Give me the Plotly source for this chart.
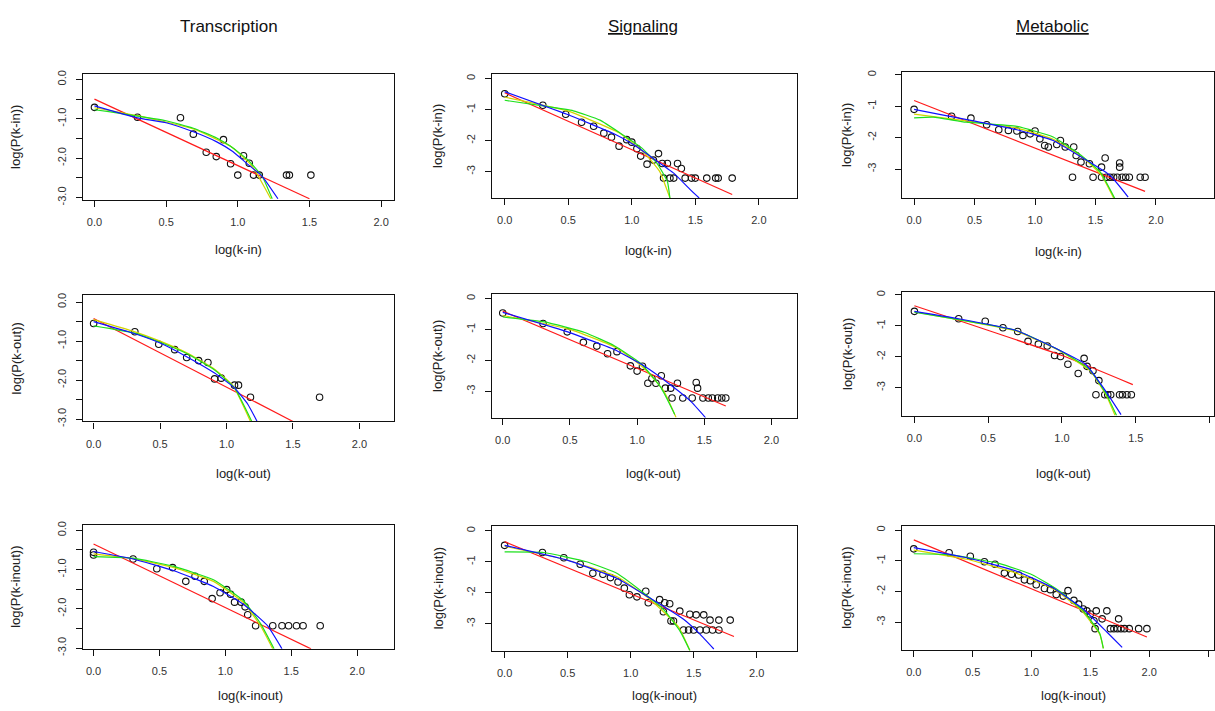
import plotly.graph_objects as go

W, H = 1215, 711
FONT = "Liberation Sans, Arial, sans-serif"

col_titles = ["Transcription", "<u>Signaling</u>", "<u>Metabolic</u>"]
x_titles = ["log(k-in)", "log(k-out)", "log(k-inout)"]
y_titles = ["log(P(k-in))", "log(P(k-out))", "log(P(k-inout))"]

# ---------------- Transcription, k-in ----------------
t_in_x = [0.0, 0.30, 0.60, 0.69, 0.78, 0.85, 0.90, 0.95, 1.00, 1.04, 1.08, 1.11, 1.15, 1.34, 1.36, 1.51]
t_in_y = [-0.71, -0.96, -0.975, -1.39, -1.85, -1.96, -1.53, -2.14, -2.43, -1.94, -2.13, -2.43, -2.43, -2.43, -2.43, -2.43]
t_in_red_x = [0.0, 1.50]
t_in_red_y = [-0.50, -3.03]
t_in_green_x = [0.0, 0.10, 0.30, 0.50, 0.69, 0.85, 0.95, 1.07, 1.17, 1.24]
t_in_green_y = [-0.77, -0.82, -0.93, -1.05, -1.24, -1.48, -1.70, -2.04, -2.46, -3.03]
t_in_blue_x = [0.0, 0.30, 0.50, 0.69, 0.85, 0.965, 1.06, 1.17, 1.28]
t_in_blue_y = [-0.67, -0.975, -1.10, -1.33, -1.58, -1.83, -2.125, -2.46, -3.03]
t_in_yel_x = [0.0, 0.30, 0.69, 0.95, 1.10, 1.23]
t_in_yel_y = [-0.72, -0.92, -1.26, -1.70, -2.20, -3.03]

# ---------------- Signaling, k-in ----------------
s_in_x = [0.0, 0.30, 0.48, 0.605, 0.70, 0.78, 0.84, 0.90, 0.96, 1.00, 1.04, 1.07, 1.12, 1.17, 1.21, 1.24,
          1.28, 1.36, 1.39, 1.25, 1.30, 1.33, 1.42, 1.47, 1.50, 1.59, 1.66, 1.68, 1.79]
s_in_y = [-0.49, -0.86, -1.15, -1.41, -1.54, -1.76, -1.89, -2.18, -1.97, -2.05, -2.26, -2.50, -2.76, -2.63, -2.42, -2.74,
          -2.74, -2.74, -2.90, -3.21, -3.21, -3.21, -3.21, -3.21, -3.21, -3.21, -3.21, -3.21, -3.21]
s_in_red_x = [0.0, 1.79]
s_in_red_y = [-0.46, -3.74]
s_in_green_x = [0.0, 0.30, 0.54, 0.75, 0.91, 1.07, 1.20, 1.28, 1.30]
s_in_green_y = [-0.70, -0.88, -1.04, -1.34, -1.76, -2.21, -2.74, -3.32, -3.85]
s_in_blue_x = [0.0, 0.49, 0.86, 1.01, 1.17, 1.33, 1.46, 1.53]
s_in_blue_y = [-0.42, -1.15, -1.78, -2.12, -2.58, -3.05, -3.58, -3.85]
s_in_yel_x = [0.0, 0.50, 0.90, 1.10, 1.22, 1.30]
s_in_yel_y = [-0.60, -1.05, -1.75, -2.40, -3.00, -3.85]

# ---------------- Metabolic, k-in ----------------
m_in_x = [0.0, 0.31, 0.47, 0.60, 0.70, 0.78, 0.85, 0.90, 0.96, 1.00, 1.04, 1.08, 1.11, 1.18, 1.21, 1.25, 1.32,
          1.34, 1.38, 1.45, 1.55, 1.58, 1.70, 1.70, 1.31, 1.48, 1.55, 1.59, 1.62, 1.65, 1.68, 1.72, 1.75, 1.78,
          1.87, 1.91]
m_in_y = [-1.10, -1.32, -1.38, -1.59, -1.75, -1.77, -1.79, -1.93, -1.88, -1.79, -2.04, -2.25, -2.30, -2.22, -2.09,
          -2.30, -2.30, -2.57, -2.78, -2.83, -2.94, -2.65, -2.81, -2.94, -3.26, -3.26, -3.26, -3.26, -3.26, -3.26,
          -3.26, -3.26, -3.26, -3.26, -3.26, -3.26]
m_in_red_x = [0.0, 1.91]
m_in_red_y = [-0.82, -3.71]
m_in_green_x = [0.0, 0.16, 0.43, 0.85, 1.15, 1.40, 1.54, 1.66]
m_in_green_y = [-1.37, -1.35, -1.51, -1.64, -1.98, -2.62, -3.10, -3.94]
m_in_blue_x = [0.0, 0.21, 0.49, 0.85, 1.15, 1.43, 1.62, 1.77]
m_in_blue_y = [-1.10, -1.26, -1.47, -1.75, -2.09, -2.73, -3.20, -3.89]
m_in_yel_x = [0.0, 0.40, 0.85, 1.15, 1.40, 1.55, 1.65]
m_in_yel_y = [-1.25, -1.45, -1.70, -2.05, -2.65, -3.20, -3.92]

# ---------------- Transcription, k-out ----------------
t_out_x = [0.0, 0.31, 0.49, 0.61, 0.70, 0.79, 0.86, 0.91, 0.96, 1.06, 1.09, 1.18, 1.70]
t_out_y = [-0.55, -0.76, -1.08, -1.22, -1.42, -1.50, -1.55, -1.97, -1.95, -2.13, -2.13, -2.44, -2.44]
t_out_red_x = [0.0, 1.50]
t_out_red_y = [-0.42, -3.06]
t_out_green_x = [0.0, 0.30, 0.50, 0.70, 0.91, 1.06, 1.19]
t_out_green_y = [-0.61, -0.79, -1.03, -1.32, -1.74, -2.20, -3.06]
t_out_blue_x = [0.0, 0.30, 0.50, 0.70, 0.91, 1.06, 1.16, 1.23]
t_out_blue_y = [-0.50, -0.80, -1.05, -1.40, -1.82, -2.20, -2.62, -3.06]
t_out_yel_x = [0.0, 0.30, 0.50, 0.70, 0.91, 1.05, 1.18]
t_out_yel_y = [-0.45, -0.75, -1.00, -1.30, -1.72, -2.15, -3.06]

# ---------------- Signaling, k-out ----------------
s_out_x = [0.0, 0.30, 0.48, 0.60, 0.70, 0.78, 0.85, 0.95, 1.00, 1.04, 1.08, 1.11, 1.14, 1.18, 1.21, 1.25, 1.30,
           1.44, 1.45, 1.26, 1.34, 1.41, 1.49, 1.53, 1.56, 1.60, 1.63, 1.66]
s_out_y = [-0.47, -0.81, -1.08, -1.42, -1.54, -1.79, -1.72, -2.18, -2.35, -2.19, -2.74, -2.59, -2.74, -2.50, -2.90,
           -2.90, -2.74, -2.72, -2.90, -3.22, -3.22, -3.22, -3.22, -3.22, -3.22, -3.22, -3.22, -3.22]
s_out_red_x = [0.0, 1.66]
s_out_red_y = [-0.41, -3.48]
s_out_green_x = [0.0, 0.31, 0.61, 0.83, 1.03, 1.18, 1.28]
s_out_green_y = [-0.60, -0.76, -1.10, -1.53, -2.11, -2.90, -3.75]
s_out_blue_x = [0.0, 0.46, 0.83, 1.05, 1.25, 1.40, 1.51]
s_out_blue_y = [-0.45, -1.05, -1.65, -2.18, -2.80, -3.33, -3.86]
s_out_yel_x = [0.0, 0.50, 0.85, 1.05, 1.20, 1.29]
s_out_yel_y = [-0.55, -1.00, -1.60, -2.25, -3.00, -3.85]

# ---------------- Metabolic, k-out ----------------
m_out_x = [0.0, 0.30, 0.48, 0.60, 0.70, 0.77, 0.84, 0.90, 0.95, 0.99, 1.04, 1.11, 1.15, 1.17, 1.21, 1.25, 1.23,
           1.29, 1.31, 1.33, 1.39, 1.41, 1.44, 1.47]
m_out_y = [-0.53, -0.77, -0.85, -1.06, -1.18, -1.50, -1.59, -1.65, -1.96, -1.99, -2.24, -2.54, -2.05, -2.31, -2.45,
           -2.77, -3.23, -3.23, -3.23, -3.23, -3.23, -3.23, -3.23, -3.23]
m_out_red_x = [0.0, 1.00, 1.48]
m_out_red_y = [-0.35, -1.96, -2.90]
m_out_green_x = [0.0, 0.30, 0.69, 0.98, 1.19, 1.30, 1.37]
m_out_green_y = [-0.56, -0.80, -1.15, -1.78, -2.42, -3.21, -3.90]
m_out_blue_x = [0.0, 0.30, 0.69, 0.98, 1.16, 1.28, 1.40]
m_out_blue_y = [-0.53, -0.77, -1.15, -1.78, -2.24, -3.00, -3.87]
m_out_yel_x = [0.0, 0.30, 0.69, 0.98, 1.19, 1.30, 1.36]
m_out_yel_y = [-0.55, -0.80, -1.17, -1.80, -2.45, -3.25, -3.90]

# ---------------- Transcription, k-inout ----------------
t_io_x = [0.0, 0.0, 0.30, 0.48, 0.60, 0.70, 0.77, 0.84, 0.90, 0.96, 1.01, 1.04, 1.07, 1.12, 1.15, 1.17, 1.23,
          1.36, 1.43, 1.48, 1.54, 1.59, 1.72]
t_io_y = [-0.56, -0.63, -0.73, -0.98, -0.95, -1.30, -1.17, -1.30, -1.74, -1.59, -1.51, -1.63, -1.83, -1.83, -1.95,
          -2.15, -2.43, -2.43, -2.43, -2.43, -2.43, -2.43, -2.43]
t_io_red_x = [0.0, 1.65]
t_io_red_y = [-0.35, -3.02]
t_io_green_x = [0.0, 0.30, 0.61, 0.91, 1.14, 1.27, 1.37]
t_io_green_y = [-0.67, -0.71, -0.92, -1.26, -1.80, -2.39, -3.02]
t_io_blue_x = [0.0, 0.30, 0.61, 0.91, 1.14, 1.32, 1.43]
t_io_blue_y = [-0.54, -0.73, -1.03, -1.43, -1.89, -2.43, -3.02]
t_io_yel_x = [0.0, 0.30, 0.61, 0.91, 1.14, 1.27, 1.36]
t_io_yel_y = [-0.60, -0.72, -0.95, -1.30, -1.85, -2.45, -3.02]

# ---------------- Signaling, k-inout ----------------
s_io_x = [0.0, 0.30, 0.47, 0.60, 0.70, 0.78, 0.84, 0.90, 0.95, 0.99, 1.05, 1.12, 1.14, 1.23, 1.27, 1.31, 1.26,
          1.34, 1.32, 1.39, 1.47, 1.52, 1.58, 1.63, 1.70, 1.79, 1.42, 1.46, 1.50, 1.55, 1.60, 1.65, 1.70]
s_io_y = [-0.47, -0.70, -0.87, -1.08, -1.37, -1.40, -1.51, -1.65, -1.85, -2.06, -2.13, -1.95, -2.32, -2.22, -2.32,
          -2.35, -2.61, -2.91, -2.91, -2.59, -2.69, -2.71, -2.71, -2.88, -2.88, -2.88, -3.20, -3.20, -3.20, -3.20,
          -3.20, -3.20, -3.20]
s_io_red_x = [0.0, 1.82]
s_io_red_y = [-0.35, -3.41]
s_io_green_x = [0.0, 0.31, 0.65, 0.89, 1.07, 1.26, 1.39, 1.47]
s_io_green_y = [-0.68, -0.70, -1.00, -1.37, -1.90, -2.53, -3.22, -3.86]
s_io_blue_x = [0.0, 0.49, 0.89, 1.15, 1.42, 1.55, 1.66]
s_io_blue_y = [-0.47, -0.94, -1.53, -2.16, -2.85, -3.33, -3.81]
s_io_yel_x = [0.0, 0.50, 0.90, 1.15, 1.38, 1.47]
s_io_yel_y = [-0.50, -0.95, -1.50, -2.20, -3.10, -3.86]

# ---------------- Metabolic, k-inout ----------------
m_io_x = [0.0, 0.30, 0.48, 0.60, 0.69, 0.77, 0.83, 0.89, 0.94, 0.99, 1.04, 1.11, 1.16, 1.21, 1.27, 1.31, 1.36,
          1.40, 1.44, 1.47, 1.53, 1.50, 1.55, 1.64, 1.60, 1.74, 1.54, 1.67, 1.70, 1.73, 1.76, 1.79, 1.83, 1.91, 1.98]
m_io_y = [-0.61, -0.74, -0.85, -1.03, -1.11, -1.40, -1.44, -1.46, -1.62, -1.65, -1.78, -1.90, -1.94, -2.10, -2.15,
          -1.97, -2.29, -2.41, -2.57, -2.63, -2.95, -2.73, -2.63, -2.63, -2.89, -2.89, -3.21, -3.21, -3.21, -3.21,
          -3.21, -3.21, -3.21, -3.21, -3.21]
m_io_red_x = [0.0, 1.98]
m_io_red_y = [-0.32, -3.48]
m_io_green_x = [0.0, 0.30, 0.73, 1.01, 1.24, 1.44, 1.58, 1.61]
m_io_green_y = [-0.77, -0.80, -1.09, -1.46, -1.99, -2.63, -3.37, -3.85]
m_io_blue_x = [0.0, 0.45, 0.87, 1.18, 1.44, 1.64, 1.77]
m_io_blue_y = [-0.57, -0.90, -1.33, -1.88, -2.57, -3.32, -3.82]
m_io_yel_x = [0.0, 0.45, 0.87, 1.20, 1.42, 1.58, 1.61]
m_io_yel_y = [-0.65, -0.95, -1.40, -1.95, -2.60, -3.40, -3.85]

# panel order: row by row, columns Transcription / Signaling / Metabolic
PANELS = [
    (t_in_x, t_in_y, t_in_red_x, t_in_red_y, t_in_green_x, t_in_green_y, t_in_blue_x, t_in_blue_y, t_in_yel_x, t_in_yel_y),
    (s_in_x, s_in_y, s_in_red_x, s_in_red_y, s_in_green_x, s_in_green_y, s_in_blue_x, s_in_blue_y, s_in_yel_x, s_in_yel_y),
    (m_in_x, m_in_y, m_in_red_x, m_in_red_y, m_in_green_x, m_in_green_y, m_in_blue_x, m_in_blue_y, m_in_yel_x, m_in_yel_y),
    (t_out_x, t_out_y, t_out_red_x, t_out_red_y, t_out_green_x, t_out_green_y, t_out_blue_x, t_out_blue_y, t_out_yel_x, t_out_yel_y),
    (s_out_x, s_out_y, s_out_red_x, s_out_red_y, s_out_green_x, s_out_green_y, s_out_blue_x, s_out_blue_y, s_out_yel_x, s_out_yel_y),
    (m_out_x, m_out_y, m_out_red_x, m_out_red_y, m_out_green_x, m_out_green_y, m_out_blue_x, m_out_blue_y, m_out_yel_x, m_out_yel_y),
    (t_io_x, t_io_y, t_io_red_x, t_io_red_y, t_io_green_x, t_io_green_y, t_io_blue_x, t_io_blue_y, t_io_yel_x, t_io_yel_y),
    (s_io_x, s_io_y, s_io_red_x, s_io_red_y, s_io_green_x, s_io_green_y, s_io_blue_x, s_io_blue_y, s_io_yel_x, s_io_yel_y),
    (m_io_x, m_io_y, m_io_red_x, m_io_red_y, m_io_green_x, m_io_green_y, m_io_blue_x, m_io_blue_y, m_io_yel_x, m_io_yel_y),
]

# ---- layout geometry (pixels) ----
COL_X = [(83, 394), (492, 797), (902, 1214)]
ROW_Y = [[(71, 199), (71, 197), (69, 197)],
         [(296, 424), (295, 420), (293, 418)],
         [(529, 655), (530, 657), (530, 656)]]
X_RANGES = [[(-0.08, 2.09), (-0.10, 2.30), (-0.10, 2.48)],
            [(-0.08, 2.26), (-0.08, 2.19), (-0.084, 2.03)],
            [(-0.08, 2.28), (-0.10, 2.32), (-0.10, 2.55)]]
Y_RANGES = [[(-3.06, 0.14), (-3.85, 0.15), (-3.92, 0.09)],
            [(-3.06, 0.17), (-3.85, 0.13), (-3.90, 0.08)],
            [(-3.02, 0.14), (-3.87, 0.16), (-3.90, 0.14)]]
XT_POS = [[(238, 249), (648, 250), (1058, 251)],
          [(243, 477), (653, 477), (1063, 477)],
          [(250, 702), (665, 702), (1073, 702)]]
YT_X = [16, 438, 847]
Y_STANDOFF = [[5, 5, 14], [5, 5, 5], [5, 5, 5]]

COLORS = {"red": "#ff1a1a", "green": "#1ee01e", "blue": "#1010ff", "yel": "#d4d400"}

fig = go.Figure()
annotations = []

for idx, p in enumerate(PANELS):
    r, c = divmod(idx, 3)
    n = idx + 1
    xa = "x" if n == 1 else f"x{n}"
    ya = "y" if n == 1 else f"y{n}"
    px, py, rx, ry, gx, gy, bx, by, yx, yy = p
    fig.add_trace(go.Scatter(x=px, y=py, mode="markers", xaxis=xa, yaxis=ya, showlegend=False,
                             marker=dict(symbol="circle-open", size=6.5, color="#111111",
                                         line=dict(width=1.1, color="#111111"))))
    for lx, ly, col in [(rx, ry, "red"), (yx, yy, "yel"), (gx, gy, "green"), (bx, by, "blue")]:
        fig.add_trace(go.Scatter(x=lx, y=ly, mode="lines", xaxis=xa, yaxis=ya, showlegend=False,
                                 line=dict(color=COLORS[col], width=1.2, shape="spline", smoothing=0.4)))

    x0, x1 = COL_X[c]
    y0, y1 = ROW_Y[r][c]
    common = dict(showgrid=False, zeroline=False, showline=True, linecolor="#111111", linewidth=1.3,
                  mirror=True, ticks="outside", ticklen=6, tickwidth=1, tickcolor="#111111",
                  tickfont=dict(family=FONT, size=11, color="#333333"))
    xkey = "xaxis" if n == 1 else f"xaxis{n}"
    ykey = "yaxis" if n == 1 else f"yaxis{n}"
    xmax = X_RANGES[r][c][1]
    xt = [v / 2 for v in range(0, 6) if v / 2 <= xmax]
    fig.update_layout({
        xkey: dict(domain=[x0 / W, x1 / W], anchor=ya, range=list(X_RANGES[r][c]),
                   tickvals=xt, ticktext=[f"{v:.1f}" for v in xt], ticklabelstandoff=6, **common),
    })
    if c == 0:
        yt = [0.0, -0.5, -1.0, -1.5, -2.0, -2.5, -3.0]
        ytt = ["0.0", "", "-1.0", "", "-2.0", "", "-3.0"]
    else:
        yt = [0, -1, -2, -3]
        ytt = ["0", "-1", "-2", "-3"]
    fig.update_layout({
        ykey: dict(domain=[1 - y1 / H, 1 - y0 / H], anchor=xa, range=list(Y_RANGES[r][c]),
                   tickvals=yt, ticktext=ytt, tickangle=-90, ticklabelstandoff=Y_STANDOFF[r][c], **common),
    })
    tx, ty = XT_POS[r][c]
    annotations.append(dict(x=tx / W, y=1 - ty / H, xref="paper", yref="paper", text=x_titles[r],
                            showarrow=False, xanchor="center", yanchor="middle",
                            font=dict(family=FONT, size=13, color="#222222")))
    annotations.append(dict(x=YT_X[c] / W, y=1 - (y0 + y1) / 2 / H, xref="paper", yref="paper",
                            text=y_titles[r], textangle=-90, showarrow=False,
                            xanchor="center", yanchor="middle",
                            font=dict(family=FONT, size=13, color="#222222")))

for c, (t, cx) in enumerate(zip(col_titles, [229, 643, 1052])):
    annotations.append(dict(x=cx / W, y=1 - 23 / H, xref="paper", yref="paper", text=t,
                            showarrow=False, xanchor="center", yanchor="middle",
                            font=dict(family=FONT, size=17, color="#111111")))

fig.update_layout(width=W, height=H, margin=dict(l=0, r=0, t=0, b=0),
                  paper_bgcolor="white", plot_bgcolor="white", annotations=annotations)

fig.write_html("out.html", config={"displayModeBar": False},
               post_script="document.body.style.margin='0';document.body.style.overflow='hidden';")
